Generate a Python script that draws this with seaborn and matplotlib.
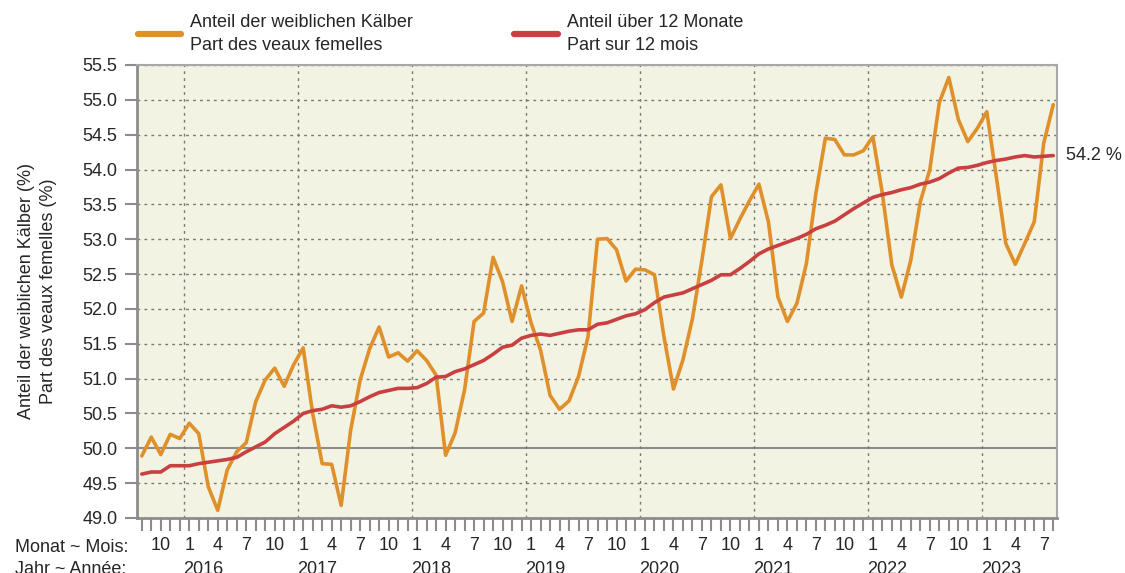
import numpy as np
import pandas as pd
import seaborn as sns
import matplotlib.pyplot as plt

# Share of female calves, monthly from Aug 2015 to Aug 2023
start_year, start_month = 2015, 8
share_female = [49.89, 50.16, 49.91, 50.20, 50.14, 50.36, 50.21, 49.45, 49.11, 49.69,
                49.95, 50.08, 50.67, 50.98, 51.15, 50.89, 51.20, 51.44, 50.50, 49.78,
                49.77, 49.18, 50.26, 50.98, 51.43, 51.74, 51.31, 51.37, 51.25, 51.40,
                51.26, 51.05, 49.90, 50.22, 50.84, 51.82, 51.94, 52.74, 52.39, 51.82,
                52.33, 51.80, 51.41, 50.76, 50.56, 50.68, 51.03, 51.60, 53.00, 53.01,
                52.85, 52.40, 52.57, 52.56, 52.49, 51.60, 50.85, 51.27, 51.86, 52.70,
                53.61, 53.78, 53.01, 53.29, 53.55, 53.79, 53.25, 52.17, 51.82, 52.08,
                52.65, 53.66, 54.45, 54.43, 54.21, 54.21, 54.27, 54.47, 53.66, 52.63,
                52.17, 52.70, 53.54, 54.00, 54.96, 55.32, 54.72, 54.40, 54.59, 54.83,
                53.90, 52.94, 52.64, 52.94, 53.25, 54.38, 54.93]
share_12m = [49.63, 49.66, 49.66, 49.75, 49.75, 49.75, 49.78, 49.80, 49.82, 49.84,
             49.87, 49.95, 50.02, 50.09, 50.21, 50.30, 50.39, 50.50, 50.54, 50.56,
             50.61, 50.59, 50.61, 50.67, 50.74, 50.80, 50.83, 50.86, 50.86, 50.87,
             50.93, 51.02, 51.03, 51.10, 51.14, 51.20, 51.26, 51.35, 51.45, 51.48,
             51.58, 51.62, 51.64, 51.62, 51.65, 51.68, 51.70, 51.70, 51.78, 51.80,
             51.85, 51.90, 51.93, 51.99, 52.09, 52.17, 52.20, 52.23, 52.29, 52.35,
             52.41, 52.49, 52.49, 52.58, 52.68, 52.79, 52.86, 52.91, 52.96, 53.01,
             53.07, 53.15, 53.20, 53.26, 53.35, 53.44, 53.52, 53.60, 53.64, 53.67,
             53.71, 53.74, 53.79, 53.82, 53.87, 53.95, 54.02, 54.03, 54.06, 54.10,
             54.13, 54.15, 54.18, 54.20, 54.18, 54.19, 54.20]
label_female = "Anteil der weiblichen Kälber\nPart des veaux femelles"
label_12m = "Anteil über 12 Monate\nPart sur 12 mois"
y_ticks = [49.0, 49.5, 50.0, 50.5, 51.0, 51.5, 52.0, 52.5, 53.0, 53.5, 54.0, 54.5, 55.0, 55.5]

n = len(share_female)
idx = np.arange(n)
months = [(start_month - 1 + k) % 12 + 1 for k in range(n)]
years = [start_year + (start_month - 1 + k) // 12 for k in range(n)]

df = pd.DataFrame({"i": idx, "female": share_female, "avg": share_12m})

# figure formatting
sns.set_style("white")
plt.rcParams['font.family'] = ['Liberation Sans', 'DejaVu Sans']
FS = 13
orange = "#E0902A"
red = "#C94040"
grey = "#8C8C8C"

fig = plt.figure(figsize=(11.25, 5.73), dpi=100)
ax = fig.add_axes([0.1218, 0.096, 0.8178, 0.7906])
ax.set_facecolor("#F3F3E3")

ax.axhline(50.0, color=grey, lw=1.5, zorder=1)
for y in y_ticks:
    if y != 50.0:
        ax.axhline(y, color="#777777", lw=1.0, ls=(0, (2, 3)), zorder=1)
for k in idx:
    if months[k] == 1:
        ax.axvline(k - 0.5, color="#777777", lw=1.0, ls=(0, (2, 3)), zorder=1)

sns.lineplot(data=df, x="i", y="female", color=orange, lw=2.6, ax=ax,
             label=label_female, zorder=3)
sns.lineplot(data=df, x="i", y="avg", color=red, lw=2.6, ax=ax,
             label=label_12m, zorder=4)

ax.set_xlim(-0.5, 96.4)
ax.set_ylim(49.0, 55.5)
ax.set_yticks(y_ticks)
ax.set_yticklabels([f"{v:.1f}" for v in y_ticks], fontsize=FS)
ax.set_xticks(idx)
ax.set_xticklabels([str(m) if m in (1, 4, 7, 10) else "" for m in months], fontsize=FS)
ax.tick_params(axis="both", length=9, width=1.5, color=grey, pad=5, left=True, bottom=True)
ax.tick_params(axis="x", pad=5)
ax.set_xlabel("")
ax.set_ylabel("Anteil der weiblichen Kälber (%)\nPart des veaux femelles (%)",
              fontsize=FS, linespacing=1.4, labelpad=18)

for s in ["left", "bottom"]:
    ax.spines[s].set_color(grey)
    ax.spines[s].set_linewidth(2)
for s in ["top", "right"]:
    ax.spines[s].set_color("#A8A8A8")
    ax.spines[s].set_linewidth(1.5)

# year labels below month labels
for k in idx:
    if months[k] == 1:
        ax.text(k + 1.5, -0.1126, str(years[k]), transform=ax.get_xaxis_transform(),
                ha="center", va="center", fontsize=FS)
fig.text(15 / 1125, 1 - 547 / 573, "Monat ~ Mois:", ha="left", va="center", fontsize=FS)
fig.text(15 / 1125, 1 - 569 / 573, "Jahr ~ Année:", ha="left", va="center", fontsize=FS)

# last value of the 12-month share
ax.annotate(f"{share_12m[-1]:.1f} %", xy=(1.0, share_12m[-1]),
            xycoords=("axes fraction", "data"), xytext=(9, 0),
            textcoords="offset pixels", ha="left", va="center", fontsize=FS,
            annotation_clip=False)

handles, labels = ax.get_legend_handles_labels()
ax.legend_.remove()
leg = fig.legend(handles, labels, loc="upper left", bbox_to_anchor=(138 / 1125, 1 - 14 / 573),
                 ncol=2, frameon=False, fontsize=FS, handlelength=2.4, handletextpad=0.5,
                 columnspacing=5.6, borderpad=0, borderaxespad=0)
for t in leg.get_texts():
    t.set_linespacing(1.45)
for line in leg.get_lines():
    line.set_linewidth(4.5)

fig.savefig("out.png", dpi=100)
